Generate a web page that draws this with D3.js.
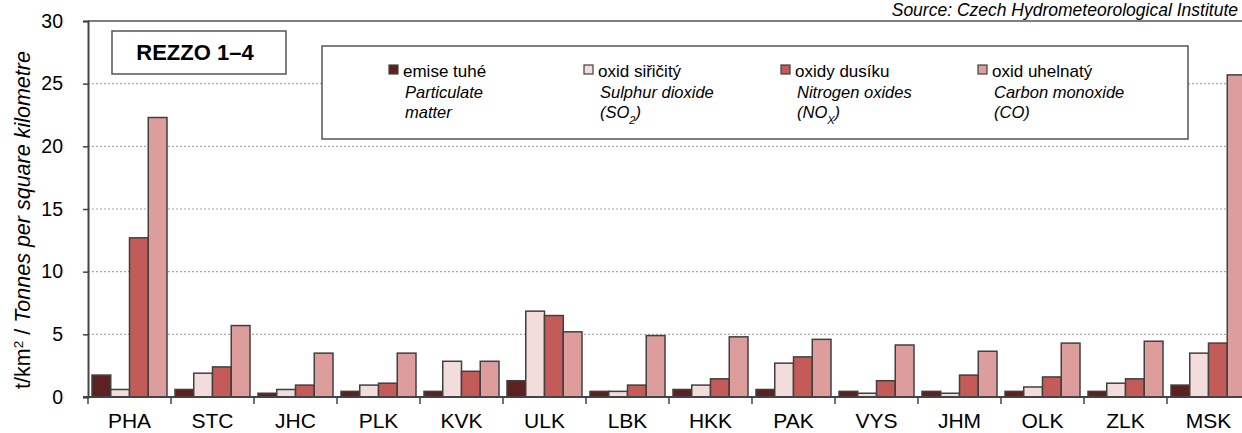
<!DOCTYPE html>
<html>
<head>
<meta charset="utf-8">
<script src="https://cdn.jsdelivr.net/npm/d3@7"></script>
<style>
  body { margin: 0; background: #fff; overflow: hidden; }
  text { font-family: "Liberation Sans", Arial, sans-serif; fill: #000; }
</style>
</head>
<body>
<div id="chart"></div>
<script>
// Emission density by region, REZZO 1-4 (t/km2)
const regions = ["PHA", "STC", "JHC", "PLK", "KVK", "ULK", "LBK", "HKK", "PAK", "VYS", "JHM", "OLK", "ZLK", "MSK"];
const particulate    = [1.75, 0.6, 0.3, 0.45, 0.45, 1.3, 0.45, 0.6, 0.6, 0.45, 0.45, 0.45, 0.45, 0.95];
const sulphurDioxide = [0.6, 1.9, 0.6, 0.95, 2.85, 6.85, 0.45, 0.95, 2.7, 0.3, 0.3, 0.8, 1.1, 3.5];
const nitrogenOxides = [12.7, 2.4, 0.95, 1.1, 2.05, 6.5, 0.95, 1.45, 3.2, 1.3, 1.75, 1.6, 1.45, 4.3];
const carbonMonoxide = [22.3, 5.7, 3.5, 3.5, 2.85, 5.2, 4.9, 4.8, 4.6, 4.15, 3.65, 4.3, 4.45, 25.7];
const yTicks = [0, 5, 10, 15, 20, 25, 30];

const seriesKeys = ["pm", "so2", "nox", "co"];
const seriesCz = ["emise tuhé", "oxid siřičitý", "oxidy dusíku", "oxid uhelnatý"];
const seriesEn = ["Particulate", "Sulphur dioxide", "Nitrogen oxides", "Carbon monoxide"];
const seriesColors = ["#5c2121", "#f3dcdc", "#c35b59", "#dd9d9d"];

const W = 1242, H = 433;

const svg = d3.select("#chart").append("svg")
  .attr("width", W).attr("height", H);

// ---------------------------------------------------------------------------
// scales
// ---------------------------------------------------------------------------
const x = d3.scaleBand().domain(regions).range([88, 1250]).padding(0);
const xSub = d3.scaleBand().domain(seriesKeys).range([4, x.bandwidth() - 4]).padding(0);
const y = d3.scaleLinear().domain([0, 30]).range([397, 21]);

const rows = regions.map((r, i) => ({
  region: r,
  pm: particulate[i], so2: sulphurDioxide[i], nox: nitrogenOxides[i], co: carbonMonoxide[i]
}));

// gridlines
svg.append("g")
  .selectAll("line")
  .data(yTicks.filter(d => d > 0 && d < 30))
  .join("line")
  .attr("x1", 88).attr("x2", W)
  .attr("y1", d => y(d)).attr("y2", d => y(d))
  .attr("stroke", "#a8a8a8")
  .attr("stroke-width", 1.2)
  .attr("stroke-dasharray", "2,2");

// top border of plot area
svg.append("line")
  .attr("x1", 88).attr("x2", W)
  .attr("y1", y(30)).attr("y2", y(30))
  .attr("stroke", "#555").attr("stroke-width", 1.5);

// ---------------------------------------------------------------------------
// bars
// ---------------------------------------------------------------------------
const groups = svg.append("g")
  .selectAll("g")
  .data(rows)
  .join("g")
  .attr("transform", d => "translate(" + x(d.region) + ",0)");

groups.selectAll("rect")
  .data(d => seriesKeys.map((k, j) => ({ key: k, value: d[k], color: seriesColors[j] })))
  .join("rect")
  .attr("x", d => xSub(d.key))
  .attr("width", xSub.bandwidth())
  .attr("y", d => y(d.value))
  .attr("height", d => y(0) - y(d.value))
  .attr("fill", d => d.color)
  .attr("stroke", "#404040")
  .attr("stroke-width", 1.5);

// ---------------------------------------------------------------------------
// axes
// ---------------------------------------------------------------------------
const yAxis = svg.append("g")
  .attr("transform", "translate(88,0)")
  .call(d3.axisLeft(y).tickValues(yTicks).tickSize(5).tickPadding(20));
yAxis.select(".domain").attr("stroke", "#444").attr("stroke-width", 2);
yAxis.selectAll(".tick line").attr("stroke", "#444").attr("stroke-width", 1.5);
yAxis.selectAll(".tick text")
  .style("font-family", "'Liberation Sans', Arial, sans-serif")
  .style("font-size", "19.5px").attr("fill", "#000");

const xAxis = svg.append("g")
  .attr("transform", "translate(0," + y(0) + ")");
xAxis.append("line")
  .attr("x1", 83).attr("x2", W)
  .attr("stroke", "#444").attr("stroke-width", 2);
xAxis.selectAll("line.sep")
  .data(regions.map(r => x(r)))
  .join("line")
  .attr("class", "sep")
  .attr("x1", d => d).attr("x2", d => d)
  .attr("y1", 0).attr("y2", 7)
  .attr("stroke", "#444").attr("stroke-width", 1.5);
xAxis.selectAll("text")
  .data(regions)
  .join("text")
  .attr("x", d => x(d) + x.bandwidth() / 2)
  .attr("y", 31)
  .attr("text-anchor", "middle")
  .style("font-size", "21px")
  .text(d => d);

// y axis title
const yTitle = svg.append("text")
  .attr("transform", "translate(30,220) rotate(-90)")
  .attr("text-anchor", "middle")
  .style("font-size", "21.5px");
yTitle.append("tspan").text("t/km");
yTitle.append("tspan").attr("baseline-shift", "super").style("font-size", "13.5px").text("2");
yTitle.append("tspan").text(" / ");
yTitle.append("tspan").style("font-style", "italic").text("Tonnes per square kilometre");

// source
svg.append("text")
  .attr("x", 1238).attr("y", 16)
  .attr("text-anchor", "end")
  .style("font-size", "17.5px")
  .style("font-style", "italic")
  .text("Source: Czech Hydrometeorological Institute");

// REZZO box
svg.append("rect")
  .attr("x", 112).attr("y", 31).attr("width", 174).attr("height", 43)
  .attr("fill", "#fff").attr("stroke", "#555").attr("stroke-width", 1.5);
svg.append("text")
  .attr("x", 195).attr("y", 60)
  .attr("text-anchor", "middle")
  .style("font-size", "22px").style("font-weight", "bold")
  .text("REZZO 1–4");

// ---------------------------------------------------------------------------
// legend
// ---------------------------------------------------------------------------
svg.append("rect")
  .attr("x", 322).attr("y", 46).attr("width", 866).attr("height", 93)
  .attr("fill", "#fff").attr("stroke", "#555").attr("stroke-width", 1.5);

const legendX = [389, 584, 781, 978];
const legend = svg.append("g")
  .selectAll("g")
  .data(seriesKeys)
  .join("g")
  .attr("transform", (d, i) => "translate(" + legendX[i] + ",0)");

legend.append("rect")
  .attr("x", 0).attr("y", 65).attr("width", 9).attr("height", 9)
  .attr("fill", (d, i) => seriesColors[i])
  .attr("stroke", "#404040").attr("stroke-width", 1.2);

legend.append("text")
  .attr("x", 14).attr("y", 77)
  .style("font-size", "17px")
  .text((d, i) => seriesCz[i]);

const l2 = legend.append("text")
  .attr("x", 16).attr("y", 98)
  .style("font-size", "16.5px").style("font-style", "italic");
l2.each(function(d, i) {
  const t = d3.select(this);
  t.append("tspan").attr("x", 16).text(seriesEn[i]);
  const t3 = t.append("tspan").attr("x", 16).attr("dy", 20);
  if (d === "pm") t3.text("matter");
  if (d === "so2") {
    t3.text("(SO");
    t.append("tspan").attr("baseline-shift", "sub").style("font-size", "11px").text("2");
    t.append("tspan").text(")");
  }
  if (d === "nox") {
    t3.text("(NO");
    t.append("tspan").attr("baseline-shift", "sub").style("font-size", "11px").text("X");
    t.append("tspan").text(")");
  }
  if (d === "co") t3.text("(CO)");
});
</script>
</body>
</html>
